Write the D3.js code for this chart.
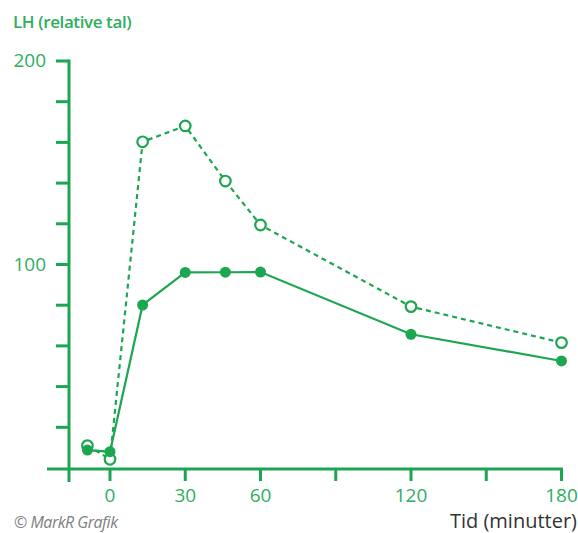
<!DOCTYPE html>
<html><head><meta charset="utf-8">
<script src="https://cdn.jsdelivr.net/npm/d3@7"></script>
<style>body{margin:0;background:#fff}svg{display:block}</style>
</head><body>
<svg id="c" width="578" height="533"></svg>
<script>
const times = [-9, 0, 13, 30, 46, 60, 120, 180];
const seriesFilled = [8.8, 8.0, 80.1, 96.1, 96.2, 96.3, 65.7, 52.6];
const seriesOpen = [11.0, 4.3, 160.3, 168.1, 141.0, 119.4, 79.3, 61.6];
const xTicks = [0, 30, 60, 90, 120, 150, 180];
const xTickLabels = ["0", "30", "60", "", "120", "", "180"];
const yTicks = [0, 20, 40, 60, 80, 100, 120, 140, 160, 180, 200];
const yTickLabels = {100: "100", 200: "200"};

const green = "#1da652";
const textGreen = "#2fae5e";
const font = "'Open Sans', 'Noto Sans', sans-serif";
const svg = d3.select("#c");
const x = d3.scaleLinear().domain([0, 180]).range([110, 561.5]);
const y = d3.scaleLinear().domain([0, 200]).range([468, 61]);

// x axis line
svg.append("line").attr("x1", 47).attr("x2", 563).attr("y1", 469).attr("y2", 469)
  .attr("stroke", green).attr("stroke-width", 3);
// x ticks
svg.selectAll(".xt").data(xTicks).enter().append("line")
  .attr("x1", d => x(d)).attr("x2", d => x(d)).attr("y1", 469).attr("y2", 481)
  .attr("stroke", green).attr("stroke-width", 3);
svg.selectAll(".xl").data(xTicks).enter().append("text")
  .attr("x", d => x(d)).attr("y", 502).attr("text-anchor", "middle")
  .attr("font-family", font).attr("font-size", 19).attr("fill", textGreen)
  .text((d, i) => xTickLabels[i]);

// y axis
svg.append("line").attr("x1", 69).attr("x2", 69).attr("y1", y(200) - 1.5).attr("y2", 482)
  .attr("stroke", green).attr("stroke-width", 3);
svg.selectAll(".yt").data(yTicks.filter(d => d > 0)).enter().append("line")
  .attr("x1", 56).attr("x2", 69).attr("y1", d => y(d)).attr("y2", d => y(d))
  .attr("stroke", green).attr("stroke-width", 3);
svg.selectAll(".yl").data(yTicks.filter(d => yTickLabels[d])).enter().append("text")
  .attr("x", 46).attr("y", d => y(d) + 6).attr("text-anchor", "end")
  .attr("font-family", font).attr("font-size", 19).attr("fill", textGreen)
  .text(d => yTickLabels[d]);

svg.append("text").attr("x", 13).attr("y", 28).attr("font-family", font).attr("font-weight", 600)
  .attr("font-size", 17).attr("letter-spacing", -0.4).attr("fill", textGreen).text("LH (relative tal)");
svg.append("text").attr("x", 577).attr("y", 528).attr("text-anchor", "end").attr("font-family", font)
  .attr("font-size", 20).attr("fill", "#333").text("Tid (minutter)");
svg.append("text").attr("x", 14).attr("y", 528).attr("font-family", font).attr("font-style", "italic")
  .attr("font-size", 16).attr("fill", "#808080").attr("letter-spacing", -0.5).text("© MarkR Grafik");

const line = d3.line().x(d => x(d[0])).y(d => y(d[1]));
const dOpen = times.map((t, i) => [t, seriesOpen[i]]);
const dFilled = times.map((t, i) => [t, seriesFilled[i]]);

svg.append("path").attr("d", line(dOpen)).attr("fill", "none").attr("stroke", green)
  .attr("stroke-width", 2.2).attr("stroke-dasharray", "5,4");
svg.append("path").attr("d", line(dFilled)).attr("fill", "none").attr("stroke", green)
  .attr("stroke-width", 2.2);

svg.selectAll(".po").data(dOpen).enter().append("circle")
  .attr("cx", d => x(d[0])).attr("cy", d => y(d[1])).attr("r", 5.3)
  .attr("fill", "#fff").attr("stroke", green).attr("stroke-width", 2.2);
svg.selectAll(".pf").data(dFilled).enter().append("circle")
  .attr("cx", d => x(d[0])).attr("cy", d => y(d[1])).attr("r", 5.5)
  .attr("fill", green);
</script>
</body></html>
